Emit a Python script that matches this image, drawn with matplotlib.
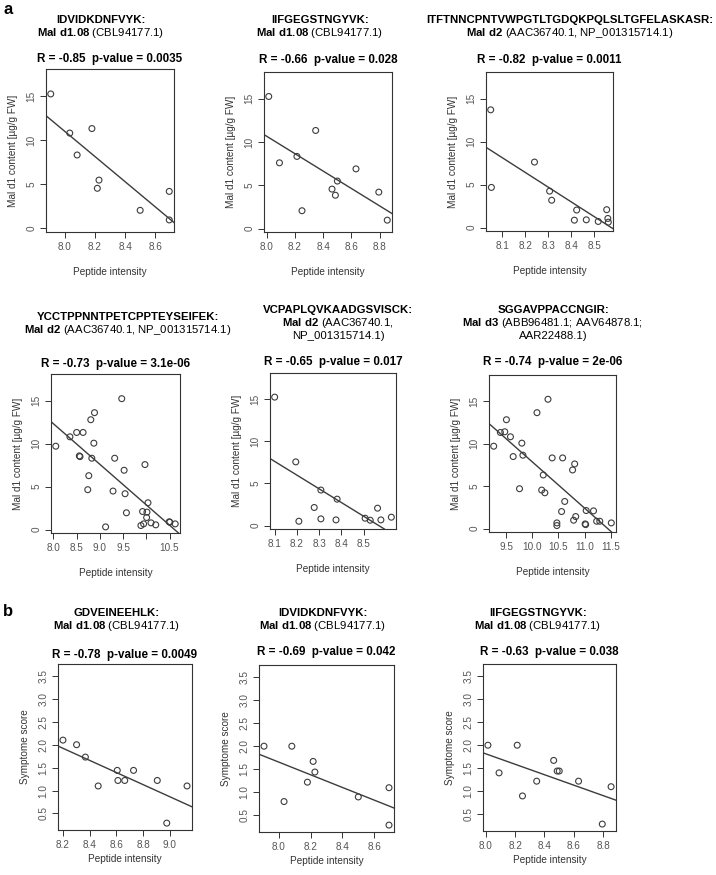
import numpy as np
import matplotlib
matplotlib.use("Agg")
from matplotlib import pyplot as plt

plt.rcParams['font.family'] = ['Liberation Sans', 'DejaVu Sans']
plt.rcParams['mathtext.fontset'] = 'custom'
plt.rcParams['mathtext.rm'] = 'Liberation Sans'
plt.rcParams['mathtext.bf'] = 'Liberation Sans:bold'

W, H = 716, 875

# ---- data ----
# IDVIDKDNFVYK (a1 and b2 share the peptide intensities)
idv_x = [7.907, 8.033, 8.082, 8.18, 8.216, 8.227, 8.5, 8.693, 8.693]
idv_mald1 = [15.27, 10.83, 8.34, 11.34, 4.56, 5.49, 2.06, 4.21, 0.97]
idv_score = [2.0, 0.8, 2.0, 1.22, 1.67, 1.44, 0.9, 1.1, 0.29]

# IIFGEGSTNGYVK (a2 and b3)
iif_x = [8.014, 8.09, 8.214, 8.25, 8.347, 8.463, 8.487, 8.501, 8.633, 8.795, 8.855]
iif_mald1 = [15.27, 7.6, 8.34, 2.06, 11.34, 4.56, 3.85, 5.49, 6.9, 4.21, 0.97]
iif_score = [2.0, 1.4, 2.0, 0.9, 1.22, 1.67, 1.44, 1.44, 1.22, 0.29, 1.1]

# ITFTNNC... (a3)
itf_x = [8.049, 8.052, 8.24, 8.306, 8.315, 8.414, 8.424, 8.466, 8.518, 8.555, 8.56, 8.562]
itf_mald1 = [13.7, 4.67, 7.62, 4.24, 3.18, 0.86, 2.04, 0.9, 0.71, 2.08, 1.06, 0.63]

# YCCTPP... (a4)
ycc_x = [8.05, 8.355, 8.50, 8.638, 8.558, 8.572, 8.739, 8.761, 8.804, 8.826, 8.87,
         8.884, 9.123, 9.283, 9.319, 9.471, 9.522, 9.543, 9.572, 9.971, 10.036,
         9.92, 10.014, 10.007, 9.884, 9.942, 10.101, 10.203, 10.493, 10.507, 10.623]
ycc_mald1 = [9.7, 10.79, 11.3, 11.3, 8.57, 8.49, 4.64, 6.27, 12.78, 8.3, 10.05,
             13.6, 0.31, 4.48, 8.3, 15.23, 6.9, 4.17, 1.95, 7.56, 3.12,
             2.1, 2.03, 1.4, 0.47, 0.66, 0.78, 0.55, 0.9, 0.86, 0.66]

# VCPAPLQ... (a5)
vcp_x = [8.1, 8.195, 8.209, 8.278, 8.308, 8.308, 8.381, 8.376, 8.507, 8.53, 8.563, 8.578, 8.625]
vcp_mald1 = [15.24, 7.56, 0.52, 2.15, 4.22, 0.8, 3.14, 0.68, 0.88, 0.64, 2.07, 0.68, 1.0]

# SGGAVPP... (a6)
sgg_x = [9.263, 9.391, 9.474, 9.506, 9.583, 9.635, 9.801, 9.821, 9.756, 10.09, 10.30,
         10.21, 10.18, 10.24, 10.38, 10.58, 10.77, 10.81, 10.62, 10.56, 10.47, 10.47,
         10.79, 10.83, 11.01, 11.02, 11.03, 11.17, 11.23, 11.29, 11.51]
sgg_mald1 = [9.71, 11.33, 11.41, 12.83, 10.82, 8.49, 10.07, 8.65, 4.7, 13.66, 15.24,
             6.32, 4.54, 4.22, 8.33, 8.33, 6.91, 7.62, 3.2, 2.01, 0.67, 0.36,
             0.99, 1.42, 0.55, 0.47, 2.13, 2.09, 0.87, 0.87, 0.67]

# GDVEINEEHLK (b1)
gdv_x = [8.2, 8.302, 8.368, 8.464, 8.607, 8.612, 8.663, 8.729, 8.907, 8.978, 9.13]
gdv_score = [2.1, 2.0, 1.73, 1.1, 1.44, 1.22, 1.22, 1.44, 1.22, 0.29, 1.1]

r_texts = ["R = -0.85  p-value = 0.0035", "R = -0.66  p-value = 0.028",
           "R = -0.82  p-value = 0.0011", "R = -0.73  p-value = 3.1e-06",
           "R = -0.65  p-value = 0.017", "R = -0.74  p-value = 2e-06",
           "R = -0.78  p-value = 0.0049", "R = -0.69  p-value = 0.042",
           "R = -0.63  p-value = 0.038"]

ylab_a = "Mal d1 content [µg/g FW]"
ylab_b = "Symptome score"
a_yticks = [0, 5, 10, 15]
b_yticks = [0.5, 1.0, 1.5, 2.0, 2.5, 3.0, 3.5]

fig = plt.figure(figsize=(W / 100, H / 100), dpi=100)

GRAY = '#3c3c3c'


def fx(px):
    return px / W


def fy(py):
    return 1 - py / H


def panel(box, x, y, xticks, xlabels, ylim, yticks, ylabel, rtext, r_y,
          head, head_x, head_y, xlab_pad, ylab_pad):
    l, r, t, b = box
    ax = fig.add_axes([fx(l), fy(b), (r - l) / W, (b - t) / H])
    ax.scatter(x, y, s=18, facecolors='none', edgecolors=GRAY, linewidths=0.8, zorder=3)
    slope, icpt = np.polyfit(x, y, 1)
    ax.axline((0, icpt), slope=slope, color=GRAY, lw=1.0)
    d = max(x) - min(x)
    ax.set_xlim(min(x) - 0.04 * d, max(x) + 0.04 * d)
    ax.set_ylim(*ylim)
    ax.set_xticks(xticks)
    ax.set_xticklabels(xlabels)
    ax.set_yticks(yticks)
    if ylabel == ylab_a:
        ylabs = ['%d' % v for v in yticks]
    else:
        ylabs = ['%.1f' % v for v in yticks]
    ax.set_yticklabels(ylabs, rotation=90, va='center')
    ax.tick_params(direction='out', length=4, width=0.7, colors='#333333',
                   labelcolor='#555555', labelsize=7.2, pad=3)
    for s in ax.spines.values():
        s.set_color('#333333')
        s.set_linewidth(0.8)
    ax.set_xlabel("Peptide intensity", fontsize=7.2, color='#333333', labelpad=xlab_pad)
    ax.set_ylabel(ylabel, fontsize=7.2, color='#333333', labelpad=ylab_pad)
    fig.text(fx((l + r) / 2), fy(r_y), rtext, ha='center', va='center',
             fontsize=8.4, fontweight='bold')
    for i, line in enumerate(head):
        fig.text(fx(head_x), fy(head_y + 13 * i), line, ha='center', va='center',
                 fontsize=8.2, fontweight='bold' if i == 0 else 'normal')
    return ax


def mal(name, rest):
    return r"$\mathbf{" + name.replace(" ", r"\ ") + "}$" + rest


ya = (-0.4, 18.1)
yb = (0.14, 3.76)

panel((46, 174, 69, 232), idv_x, idv_mald1, [8.0, 8.2, 8.4, 8.6], ["8.0", "8.2", "8.4", "8.6"],
      ya, a_yticks, ylab_a, r_texts[0], 59,
      ["IDVIDKDNFVYK:", mal("Mal d1.08", " (CBL94177.1)")], 101, 20, 11, 6)
panel((264, 392, 72, 232), iif_x, iif_mald1, [8.0, 8.2, 8.4, 8.6, 8.8],
      ["8.0", "8.2", "8.4", "8.6", "8.8"],
      ya, a_yticks, ylab_a, r_texts[1], 60,
      ["IIFGEGSTNGYVK:", mal("Mal d1.08", " (CBL94177.1)")], 320, 20, 11, 6)
panel((486, 613, 72, 231), itf_x, itf_mald1, [8.1, 8.2, 8.3, 8.4, 8.5],
      ["8.1", "8.2", "8.3", "8.4", "8.5"],
      ya, a_yticks, ylab_a, r_texts[2], 60,
      ["ITFTNNCPNTVWPGTLTGDQKPQLSLTGFELASKASR:",
       mal("Mal d2", " (AAC36740.1, NP_001315714.1)")], 570, 20, 11, 6)
panel((51, 180, 374, 533), ycc_x, ycc_mald1, [8.0, 8.5, 9.0, 9.5, 10.0, 10.5],
      ["8.0", "8.5", "9.0", "9.5", "", "10.5"],
      ya, a_yticks, ylab_a, r_texts[3], 364,
      ["YCCTPPNNTPETCPPTEYSEIFEK:", mal("Mal d2", " (AAC36740.1, NP_001315714.1)")],
      128, 317, 11, 6)
panel((270, 396, 373, 529), vcp_x, vcp_mald1, [8.1, 8.2, 8.3, 8.4, 8.5],
      ["8.1", "8.2", "8.3", "8.4", "8.5"],
      ya, a_yticks, ylab_a, r_texts[4], 362,
      ["VCPAPLQVKAADGSVISCK:", mal("Mal d2", " (AAC36740.1,"), "NP_001315714.1)"],
      338, 310, 11, 6)
panel((489, 616, 375, 532), sgg_x, sgg_mald1, [9.5, 10.0, 10.5, 11.0, 11.5],
      ["9.5", "10.0", "10.5", "11.0", "11.5"],
      ya, a_yticks, ylab_a, r_texts[5], 362,
      ["SGGAVPPACCNGIR:", mal("Mal d3", " (ABB96481.1; AAV64878.1;"), "AAR22488.1)"],
      553, 310, 11, 6)
panel((58, 192, 664, 830), gdv_x, gdv_score, [8.2, 8.4, 8.6, 8.8, 9.0],
      ["8.2", "8.4", "8.6", "8.8", "9.0"],
      yb, b_yticks, ylab_b, r_texts[6], 655,
      ["GDVEINEEHLK:", mal("Mal d1.08", " (CBL94177.1)")], 117, 613, 3, 6)
panel((259, 394, 665, 832), idv_x, idv_score, [8.0, 8.2, 8.4, 8.6], ["8.0", "8.2", "8.4", "8.6"],
      yb, b_yticks, ylab_b, r_texts[7], 652,
      ["IDVIDKDNFVYK:", mal("Mal d1.08", " (CBL94177.1)")], 323, 613, 3, 6)
panel((483, 616, 664, 831), iif_x, iif_score, [8.0, 8.2, 8.4, 8.6, 8.8],
      ["8.0", "8.2", "8.4", "8.6", "8.8"],
      yb, b_yticks, ylab_b, r_texts[8], 652,
      ["IIFGEGSTNGYVK:", mal("Mal d1.08", " (CBL94177.1)")], 538, 613, 3, 6)

fig.text(fx(3), fy(10), "a", fontsize=12, fontweight='bold', ha='left', va='center')
fig.text(fx(3), fy(612), "b", fontsize=12, fontweight='bold', ha='left', va='center')

fig.savefig("out.png", dpi=100)
